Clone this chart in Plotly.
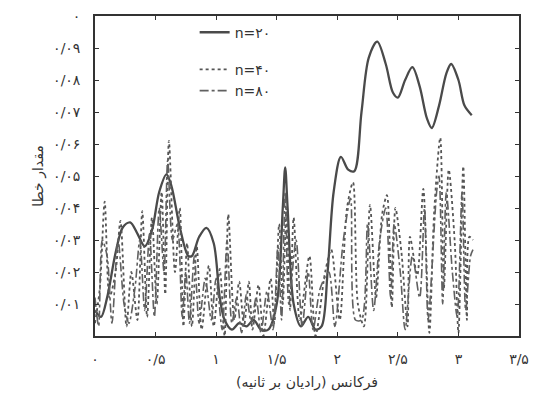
import plotly.graph_objects as go

# ---- data ----
x_n20 = [0, 0.05, 0.10, 0.17, 0.23, 0.29, 0.35, 0.41, 0.47, 0.53, 0.59, 0.63, 0.70, 0.77, 0.80, 0.86,
         0.92, 0.98, 1.03, 1.07, 1.13, 1.19, 1.25, 1.31, 1.37, 1.43, 1.50, 1.55, 1.57, 1.59, 1.64,
         1.70, 1.76, 1.82, 1.87, 1.92, 1.97, 2.03, 2.09, 2.14, 2.20, 2.26, 2.33, 2.40, 2.46, 2.50,
         2.56, 2.62, 2.68, 2.74, 2.78, 2.84, 2.90, 2.94, 3.00, 3.05, 3.11]
y_n20 = [0.008, 0.006, 0.012, 0.026, 0.034, 0.0355, 0.032, 0.028, 0.033, 0.045, 0.0505, 0.047, 0.034,
         0.025, 0.025, 0.031, 0.0338, 0.029, 0.012, 0.005, 0.002, 0.004, 0.003, 0.005, 0.002, 0.002,
         0.010, 0.040, 0.0527, 0.040, 0.010, 0.003, 0.006, 0.002, 0.003, 0.020, 0.045, 0.056, 0.052,
         0.0515, 0.070, 0.087, 0.092, 0.085, 0.076, 0.0745, 0.080, 0.084, 0.078, 0.068, 0.065, 0.072,
         0.082, 0.085, 0.080, 0.072, 0.069]

x_n40 = [0, 0.04, 0.08, 0.12, 0.17, 0.21, 0.26, 0.30, 0.35, 0.39, 0.43, 0.47, 0.51, 0.55, 0.58, 0.61,
         0.66, 0.70, 0.73, 0.76, 0.80, 0.84, 0.88, 0.94, 0.98, 1.03, 1.07, 1.10, 1.15, 1.19, 1.23,
         1.27, 1.30, 1.35, 1.39, 1.45, 1.48, 1.52, 1.55, 1.58, 1.61, 1.64, 1.69, 1.77, 1.82, 1.90,
         1.95, 2.02, 2.08, 2.13, 2.17, 2.22, 2.27, 2.32, 2.37, 2.41, 2.45, 2.48, 2.53, 2.58, 2.60,
         2.66, 2.71, 2.76, 2.80, 2.85, 2.88, 2.92, 2.97, 3.00, 3.04, 3.07, 3.09, 3.12]
y_n40 = [0.004, 0.015, 0.042, 0.012, 0.020, 0.036, 0.003, 0.020, 0.005, 0.039, 0.006, 0.037, 0.010,
         0.045, 0.013, 0.061, 0.020, 0.040, 0.003, 0.029, 0.003, 0.028, 0.002, 0.022, 0.003, 0.021,
         0.000, 0.038, 0.005, 0.017, 0.003, 0.017, 0.002, 0.016, 0.000, 0.018, 0.004, 0.035, 0.010,
         0.040, 0.008, 0.037, 0.005, 0.025, 0.000, 0.020, 0.027, 0.005, 0.040, 0.048, 0.010, 0.003,
         0.041, 0.012, 0.038, 0.044, 0.009, 0.040, 0.026, 0.003, 0.031, 0.019, 0.046, 0.001, 0.039,
         0.062, 0.015, 0.052, 0.029, 0.001, 0.053, 0.005, 0.031, 0.030]

x_n80 = [0, 0.03, 0.06, 0.10, 0.14, 0.19, 0.24, 0.28, 0.33, 0.37, 0.41, 0.45, 0.49, 0.53, 0.57, 0.60,
         0.64, 0.68, 0.72, 0.75, 0.78, 0.82, 0.86, 0.91, 0.96, 1.00, 1.05, 1.09, 1.13, 1.17, 1.21,
         1.25, 1.29, 1.33, 1.37, 1.42, 1.47, 1.51, 1.54, 1.57, 1.60, 1.66, 1.71, 1.76, 1.80, 1.86,
         1.93, 1.98, 2.05, 2.11, 2.15, 2.20, 2.25, 2.30, 2.35, 2.40, 2.44, 2.47, 2.52, 2.56, 2.62,
         2.68, 2.72, 2.75, 2.82, 2.84, 2.87, 2.90, 2.95, 2.99, 3.03, 3.06, 3.10, 3.12]
y_n80 = [0.012, 0.003, 0.030, 0.025, 0.004, 0.030, 0.010, 0.004, 0.015, 0.030, 0.008, 0.032, 0.006,
         0.040, 0.020, 0.055, 0.030, 0.035, 0.006, 0.020, 0.004, 0.025, 0.004, 0.018, 0.005, 0.018,
         0.002, 0.030, 0.004, 0.012, 0.001, 0.013, 0.004, 0.012, 0.001, 0.014, 0.002, 0.028, 0.005,
         0.045, 0.010, 0.030, 0.003, 0.020, 0.002, 0.015, 0.020, 0.003, 0.030, 0.043, 0.005, 0.005,
         0.035, 0.008, 0.030, 0.040, 0.012, 0.035, 0.020, 0.002, 0.025, 0.012, 0.040, 0.005, 0.045,
         0.050, 0.010, 0.045, 0.020, 0.006, 0.045, 0.008, 0.025, 0.027]

series_names = ["n=۲۰", "n=۴۰", "n=۸۰"]

x_tickvals = [0, 0.5, 1, 1.5, 2, 2.5, 3, 3.5]
x_ticktext = ["۰", "۰/۵", "۱", "۱/۵", "۲", "۲/۵", "۳", "۳/۵"]
y_tickvals = [0.01, 0.02, 0.03, 0.04, 0.05, 0.06, 0.07, 0.08, 0.09, 0.1]
y_ticktext = ["۰/۰۱", "۰/۰۲", "۰/۰۳", "۰/۰۴", "۰/۰۵", "۰/۰۶", "۰/۰۷", "۰/۰۸", "۰/۰۹", "۰"]

x_title = "فرکانس (رادیان بر ثانیه)"
y_title = "مقدار خطا"

FONT = "DejaVu Sans"
INK = "#333333"

fig = go.Figure()
fig.add_trace(go.Scatter(x=x_n20, y=y_n20, name=series_names[0], mode="lines",
                         line=dict(color="#4a4a4a", width=2.3, shape="spline", smoothing=0.9),
                         legendgroup="a"))
fig.add_trace(go.Scatter(x=x_n40, y=y_n40, name=series_names[1], mode="lines",
                         line=dict(color="#555555", width=1.8, dash="dot", shape="spline", smoothing=0.8),
                         legendgroup="b"))
fig.add_trace(go.Scatter(x=x_n80, y=y_n80, name=series_names[2], mode="lines",
                         line=dict(color="#606060", width=1.6, dash="dashdot", shape="spline", smoothing=0.8),
                         legendgroup="b"))

axis_common = dict(showline=True, linecolor=INK, linewidth=1.6, mirror="ticks", ticks="inside",
                   ticklen=4, tickcolor=INK, showgrid=False, zeroline=False,
                   tickfont=dict(family=FONT, size=14, color=INK))

fig.update_layout(
    width=537, height=399,
    margin=dict(l=95, r=14, t=8, b=63),
    paper_bgcolor="white", plot_bgcolor="white",
    font=dict(family=FONT, color=INK),
    xaxis=dict(range=[0, 3.5], tickvals=x_tickvals, ticktext=x_ticktext,
               ticklabelstandoff=9,
               title=dict(text=x_title, font=dict(family=FONT, size=14, color=INK), standoff=12),
               **axis_common),
    yaxis=dict(range=[0, 0.1], tickvals=y_tickvals, ticktext=y_ticktext,
               ticklabelstandoff=10,
               title=dict(text=y_title, font=dict(family=FONT, size=14, color=INK), standoff=6),
               **axis_common),
    legend=dict(x=0.235, y=0.998, xanchor="left", yanchor="top", bgcolor="rgba(0,0,0,0)",
                font=dict(family=FONT, size=14, color=INK), itemwidth=30, tracegroupgap=16),
    showlegend=True,
)

fig.write_html("out.html")
